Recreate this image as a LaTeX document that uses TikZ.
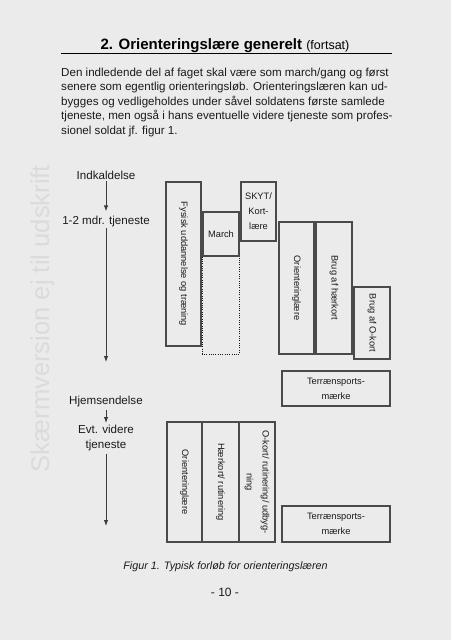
\documentclass[tikz,border=0pt]{standalone}
\usepackage{fontspec}
\setmainfont{Liberation Sans}
\usetikzlibrary{arrows.meta}
\definecolor{pagebg}{HTML}{EBEBEB}
\definecolor{boxline}{HTML}{4A4A4A}
\definecolor{wmark}{HTML}{DBDBDB}
\definecolor{inkc}{HTML}{1A1A1A}
\tikzset{
  bodytxt/.style={inner sep=0pt, text=inkc, font=\fontsize{11.6}{14.4}\selectfont},
  lbl/.style={inner sep=1pt, text=inkc, align=center, font=\fontsize{11.6}{14.4}\selectfont},
  flow/.style={draw=inkc!85, line width=0.9pt, -{Latex[length=6pt,width=4.5pt]}},
  box/.style={draw=boxline, line width=1.1pt, inner sep=0pt, text=inkc, align=center,
    font=\fontsize{9.3}{15}\selectfont},
  vbox/.style={box, rotate=-90},
  dotbox/.style={draw=inkc, line width=0.9pt, dash pattern=on 1pt off 1.3pt}
}
\begin{document}
\begin{tikzpicture}[x=1pt,y=-1pt]
\fill[pagebg] (0,0) rectangle (451,640);
\useasboundingbox (0,0) rectangle (451,640);

% watermark
\node[rotate=90, text=wmark, inner sep=0pt, font=\fontsize{25.6}{26}\selectfont] (wm) at (42.5,318.5) {Skærmversion ej til udskrift};

% title
\node[anchor=base, inner sep=0pt, text=black] (title) at (225,49.5)
  {\fontsize{15}{16}\selectfont\bfseries 2. Orienteringslære generelt \fontsize{12.5}{14}\selectfont\mdseries(fortsat)};
\coordinate (ulA) at (61,53.5);
\coordinate (ulB) at (392,53.5);
\draw[line width=1pt, black] (ulA) -- (ulB);

% paragraph
\node[bodytxt, anchor=base west] (p1) at (61,76) {Den indledende del af faget skal være som march/gang og først};
\node[bodytxt, anchor=base west] (p2) at (61,90.5) {senere som egentlig orienteringsløb. Orienteringslæren kan ud-};
\node[bodytxt, anchor=base west] (p3) at (61,105) {bygges og vedligeholdes under såvel soldatens første samlede};
\node[bodytxt, anchor=base west] (p4) at (61,119.4) {tjeneste, men også i hans eventuelle videre tjeneste som profes-};
\node[bodytxt, anchor=base west] (p5) at (61,134) {sionel soldat jf. figur 1.};

% timeline
\node[lbl, anchor=base] (ind) at (106,179) {Indkaldelse};
\node[lbl, anchor=base] (mdr) at (106,224) {1-2 mdr. tjeneste};
\coordinate (end1) at (106,362);
\node[lbl, anchor=base] (hjem) at (106,404) {Hjemsendelse};
\node[lbl, anchor=north] (evt) at (106,424) {Evt. videre\\tjeneste};
\coordinate (end2) at (106,526);
\coordinate (dotbot) at (0,354);

\draw[flow, shorten <=0.5pt, shorten >=3pt] (ind.south) -- (mdr.north);
\draw[flow, shorten <=0.5pt] (mdr.south) -- (end1);
\draw[flow, shorten <=2pt, shorten >=1pt] (hjem.south) -- (evt.north);
\draw[flow, shorten <=2pt] (evt.south) -- (end2);

% upper boxes
\node[vbox, minimum width=164pt, minimum height=35pt] (fys) at (183.5,264) {Fysisk uddannelse og træning};
\node[box, minimum width=36pt, minimum height=44pt] (march) at (221,234) {March};
\draw[dotbox] (march.south west) -- (march.south west |- dotbot) -- (march.south east |- dotbot) -- (march.south east);
\node[box, minimum width=35pt, minimum height=59pt] (skyt) at (258.5,211.5) {SKYT/\\Kort-\\lære};
\node[vbox, minimum width=132pt, minimum height=35pt] (ori1) at (296.5,288) {Orienteringlære};
\node[vbox, minimum width=132pt, minimum height=36pt] (hk) at (334,288) {Brug af hærkort};
\node[vbox, minimum width=72pt, minimum height=36pt] (ok) at (372,323) {Brug af O-kort};
\node[box, minimum width=108pt, minimum height=35pt] (ter1) at (336,388.5) {Terrænsports-\\mærke};

% lower boxes
\node[vbox, minimum width=120pt, minimum height=35pt] (ori2) at (184.5,482) {Orienteringlære};
\node[vbox, minimum width=120pt, minimum height=37pt] (hkr) at (220.5,482) {Hærkort/ rutinering};
\node[vbox, minimum width=120pt, minimum height=36pt, font=\fontsize{9.3}{16}\selectfont] (okr) at (257,482) {O-kort/ rutinering/ udbyg-\\ning};
\node[box, minimum width=108pt, minimum height=36pt] (ter2) at (336,524) {Terrænsports-\\mærke};

% caption and page number
\node[inner sep=0pt, text=inkc, font=\fontsize{10.8}{12}\selectfont\itshape] (cap) at (225.5,567) {Figur 1. Typisk forløb for orienteringslæren};
\node[inner sep=0pt, text=inkc, font=\fontsize{12}{14}\selectfont] (pg) at (225,592) {- 10 -};
\end{tikzpicture}
\end{document}
